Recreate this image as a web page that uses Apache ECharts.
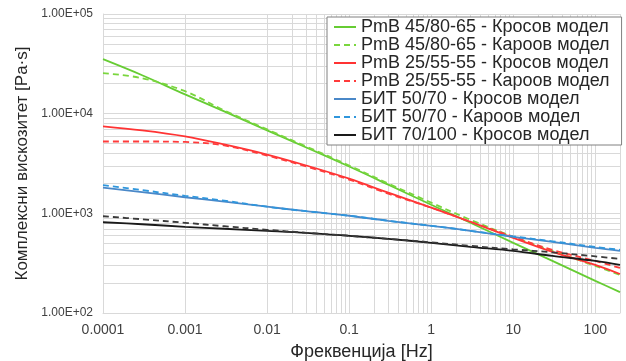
<!DOCTYPE html>
<html>
<head>
<meta charset="utf-8">
<script src="https://cdn.jsdelivr.net/npm/echarts@6/dist/echarts.min.js"></script>
<style>
html,body{margin:0;padding:0;background:#fff;}
#c{width:626px;height:361px;}
</style>
</head>
<body>
<div id="c"></div>
<script>
// Frequency [Hz]
const freq = [0.0001,0.0003,0.001,0.003,0.01,0.03,0.1,0.3,1,3,10,30,100,200];
// Complex viscosity [Pa·s]
const pmb45Cross   = [35200,24300,15600,10550,6790,4580,2950,1940,1220,804,506,333,210,162];
const pmb45Carreau = [25500,22700,16800,10800,6950,4690,3020,1990,1280,862,581,420,297,241];
const pmb25Cross   = [7450,6790,5910,4910,3890,3020,2230,1610,1140,823,568,411,304,246];
const pmb25Carreau = [5260,5260,5200,4800,3800,2950,2180,1575,1140,823,581,430,333,283];
const bit50Cross   = [1810,1630,1450,1310,1165,1050,946,842,750,668,581,518,450,420];
const bit50Carreau = [1920,1710,1500,1340,1165,1050,946,842,750,668,588,524,461,430];
const bit70Cross   = [814,777,733,700,668,638,595,555,506,461,420,374,333,304];
const bit70Carreau = [935,872,804,742,684,638,595,555,512,472,435,406,370,349];

const names = [
  'PmB 45/80-65 - Кросов модел',
  'PmB 45/80-65 - Кароов модел',
  'PmB 25/55-55 - Кросов модел',
  'PmB 25/55-55 - Кароов модел',
  'БИТ 50/70 - Кросов модел',
  'БИТ 50/70 - Кароов модел',
  'БИТ 70/100 - Кросов модел',
  'БИТ 70/100 - Кароов модел'
];
const xTickLabels = ['0.0001','0.001','0.01','0.1','1','10','100'];
const yTickLabels = ['1.00E+02','1.00E+03','1.00E+04','1.00E+05'];

const X_MIN = 0.0001, X_MAX = 200, Y_MIN = 100, Y_MAX = 100000;

// minor gridlines at 2..9 x 10^k
const gridX = [], gridY = [];
for (let e = -4; e <= 2; e++) for (let k = 2; k <= 9; k++) {
  const v = k * Math.pow(10, e);
  if (v <= X_MAX * 1.0001) gridX.push(v);
}
for (let e = 2; e <= 4; e++) for (let k = 2; k <= 9; k++) gridY.push(k * Math.pow(10, e));

const gridColor = '#d9d9d9';
const FONT = 'Liberation Sans, Arial, sans-serif';

function pairs(arr){ return freq.map((f,i)=>[f,arr[i]]); }
function isDecade(v){ const l = Math.log10(v); return Math.abs(l - Math.round(l)) < 1e-6; }

const seriesDefs = [
  [pmb45Cross,   '#66cc33', 'solid'],
  [pmb45Carreau, '#7ad63e', 'dashed'],
  [pmb25Cross,   '#ff3333', 'solid'],
  [pmb25Carreau, '#ff3b3b', 'dashed'],
  [bit50Cross,   '#4a88c8', 'solid'],
  [bit50Carreau, '#2f96dc', 'dashed'],
  [bit70Cross,   '#1a1a1a', 'solid'],
  [bit70Carreau, '#3a3a3a', 'dashed']
];

const series = [{
  type: 'line', name: '_grid', data: [[1, 1000]], symbol: 'none', z: 1,
  lineStyle: { opacity: 0 }, silent: true,
  markLine: {
    silent: true, symbol: 'none', animation: false, z: 1,
    label: { show: false },
    lineStyle: { color: gridColor, width: 1, type: 'solid' },
    emphasis: { disabled: true },
    data: gridX.map(v => ({ xAxis: v })).concat(gridY.map(v => ({ yAxis: v })))
  }
}];
seriesDefs.forEach((d, i) => {
  series.push({
    type: 'line', name: names[i], data: pairs(d[0]), smooth: 0.35,
    symbol: 'none', showSymbol: false, z: 2,
    lineStyle: { color: d[1], width: 1.8, type: d[2] === 'dashed' ? [6, 4] : 'solid' },
    itemStyle: { color: d[1] }
  });
});

const chart = echarts.init(document.getElementById('c'), null, { renderer: 'canvas' });
chart.setOption({
  animation: false,
  backgroundColor: '#fff',
  textStyle: { fontFamily: FONT },
  grid: { left: 103, right: 6, top: 14, bottom: 48, containLabel: false, outerBoundsMode: 'none' },
  legend: {
    data: names.slice(0, 7),
    orient: 'vertical',
    left: 327, top: 17, z: 20,
    backgroundColor: '#fff',
    borderColor: '#808080', borderWidth: 1,
    padding: [1, 12, 1, 6],
    itemGap: 0, itemWidth: 22, itemHeight: 14,
    itemStyle: { opacity: 0, borderWidth: 0 },
    textStyle: { fontSize: 18, lineHeight: 17.5, color: '#262626', fontFamily: FONT },
    selectedMode: false
  },
  xAxis: {
    type: 'log', logBase: 10, min: X_MIN, max: X_MAX,
    name: 'Фреквенција [Hz]', nameLocation: 'middle', nameGap: 30,
    nameTextStyle: { fontSize: 18, color: '#262626', fontFamily: FONT },
    axisLine: { show: true, lineStyle: { color: gridColor } },
    axisTick: { show: false },
    axisLabel: {
      fontSize: 14, color: '#404040', margin: 10, fontFamily: FONT,
      showMinLabel: true, showMaxLabel: true,
      formatter: v => {
        if (!isDecade(v)) return '';
        const idx = Math.round(Math.log10(v)) + 4;
        return xTickLabels[idx] || '';
      }
    },
    splitLine: { show: true, lineStyle: { color: gridColor, width: 1 } }
  },
  yAxis: {
    type: 'log', logBase: 10, min: Y_MIN, max: Y_MAX,
    name: 'Комплексни вискозитет [Pa·s]', nameLocation: 'middle', nameGap: 61, nameRotate: 90,
    nameTextStyle: { fontSize: 17, color: '#262626', fontFamily: FONT },
    axisLine: { show: true, lineStyle: { color: gridColor } },
    axisTick: { show: false },
    axisLabel: {
      fontSize: 12, color: '#404040', margin: 10, fontFamily: FONT,
      formatter: v => {
        if (!isDecade(v)) return '';
        const idx = Math.round(Math.log10(v)) - 2;
        return yTickLabels[idx] || '';
      }
    },
    splitLine: { show: true, lineStyle: { color: gridColor, width: 1 } }
  },
  series: series
});
</script>
</body>
</html>
